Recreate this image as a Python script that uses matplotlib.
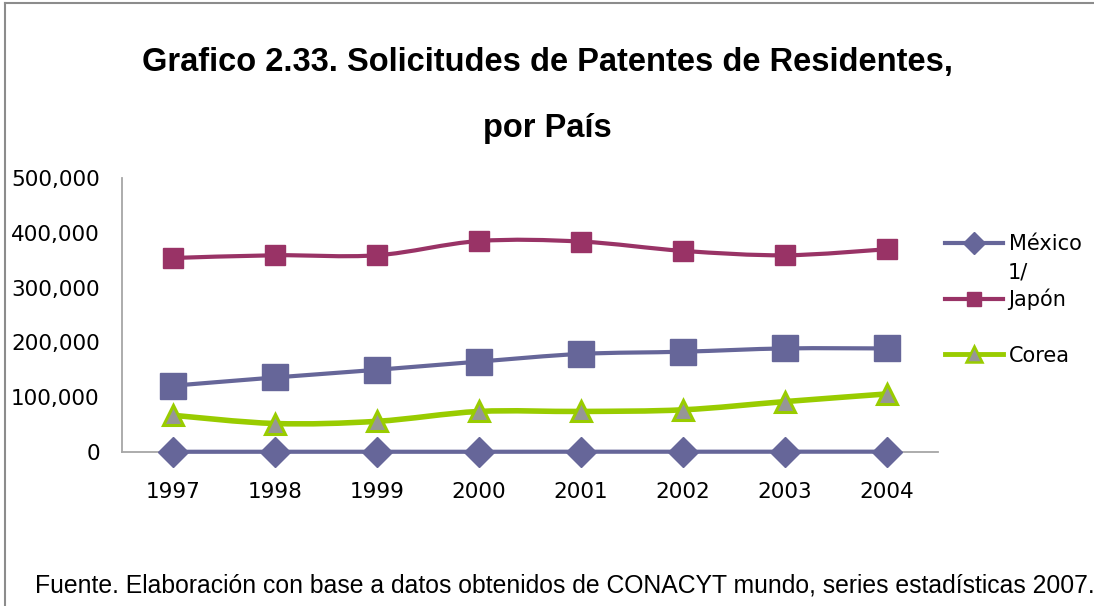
import numpy as np
import matplotlib
matplotlib.use("Agg")
import matplotlib.pyplot as plt
from matplotlib.path import Path
from matplotlib.patches import PathPatch
from matplotlib.lines import Line2D

# solicitudes de patentes de residentes, 1997-2004
years = ["1997", "1998", "1999", "2000", "2001", "2002", "2003", "2004"]
mexico = [420, 450, 455, 430, 535, 525, 565, 585]
japon = [354000, 359000, 359000, 385000, 384000, 367000, 359000, 370000]
corea = [67000, 52000, 56000, 74000, 74000, 77000, 92000, 106000]
estados_unidos = [121000, 136000, 150000, 165000, 179000, 183000, 189000, 189000]

yticks = [0, 100000, 200000, 300000, 400000, 500000]

C_MX = "#666699"
C_JP = "#993366"
C_KR = "#99cc00"
C_US = "#666699"
C_AX = "#a6a6a6"


def smooth_path(xs, ys):
    # bezier curve through the points, like a spreadsheet "smoothed line"
    pts = np.column_stack([xs, ys]).astype(float)
    n = len(pts)
    verts = [pts[0]]
    codes = [Path.MOVETO]
    for i in range(n - 1):
        p0 = pts[i - 1] if i > 0 else pts[i]
        p1 = pts[i]
        p2 = pts[i + 1]
        p3 = pts[i + 2] if i + 2 < n else pts[i + 1]
        c1 = p1 + (p2 - p0) / 6.0
        c2 = p2 - (p3 - p1) / 6.0
        verts += [c1, c2, p2]
        codes += [Path.CURVE4] * 3
    return Path(verts, codes)


fig = plt.figure(figsize=(10.94, 6.06), dpi=100)
ax = fig.add_axes([122 / 1094, 1 - 452 / 606, 816 / 1094, 274 / 606])

x = np.arange(len(years))

series = [
    (mexico, C_MX, 3.0, dict(marker="D", ms=15, mfc=C_MX, mec=C_MX)),
    (estados_unidos, C_US, 3.0, dict(marker="s", ms=18.5, mfc=C_US, mec=C_US)),
    (corea, C_KR, 4.0, dict(marker="^", ms=15, mfc="#969696", mec=C_KR, mew=2.2)),
    (japon, C_JP, 3.0, dict(marker="s", ms=14.5, mfc=C_JP, mec=C_JP)),
]
for vals, col, lw, mk in series:
    ax.add_patch(PathPatch(smooth_path(x, vals), fill=False, ec=col, lw=lw,
                           capstyle="round", joinstyle="round", zorder=3,
                           clip_on=False))
    ax.plot(x, vals, ls="none", zorder=4, clip_on=False, **mk)

ax.set_xlim(-0.5, len(years) - 0.5)
ax.set_ylim(0, 500000)
ax.set_xticks(x)
ax.set_xticklabels(years)
ax.set_yticks(yticks)
ax.set_yticklabels([f"{v:,}" for v in yticks])
ax.tick_params(axis="both", length=0, labelsize=15.5)
ax.tick_params(axis="y", pad=16)
ax.tick_params(axis="x", pad=21.5)
for s in ["top", "right"]:
    ax.spines[s].set_visible(False)
for s in ["left", "bottom"]:
    ax.spines[s].set_color(C_AX)
    ax.spines[s].set_linewidth(1.3)
    ax.spines[s].set_zorder(2)

handles = [
    Line2D([], [], color=C_MX, lw=3, marker="D", ms=11.5, mfc=C_MX, mec=C_MX),
    Line2D([], [], color=C_JP, lw=3, marker="s", ms=10, mfc=C_JP, mec=C_JP),
    Line2D([], [], color=C_KR, lw=3.5, marker="^", ms=11, mfc="#969696", mec=C_KR, mew=1.8),
]
fig.legend(handles, ["México", "Japón", "Corea"], loc="upper left",
           bbox_to_anchor=(945 / 1094, 1 - 234 / 606), frameon=False,
           fontsize=15, handlelength=2.8, handletextpad=0.25,
           labelspacing=1.68, borderpad=0, borderaxespad=0)
fig.text(1008 / 1094, 1 - 272 / 606, "1/", fontsize=15, va="center", ha="left")

fig.text(0.5, 1 - 62 / 606, "Grafico 2.33. Solicitudes de Patentes de Residentes,",
         family="Liberation Sans", weight="bold", fontsize=23.5,
         ha="center", va="center")
fig.text(0.5, 1 - 128 / 606, "por País",
         family="Liberation Sans", weight="bold", fontsize=23.5,
         ha="center", va="center")

fig.text(35 / 1094, 1 - 585 / 606,
         "Fuente. Elaboración con base a datos obtenidos de CONACYT mundo, series estadísticas 2007.",
         family="Liberation Sans", fontsize=17.8, ha="left", va="center")

# marco exterior del gráfico (izquierda y arriba)
fig.add_artist(Line2D([5 / 1094, 5 / 1094], [0, 1 - 3 / 606],
                      transform=fig.transFigure, color="#8c8c8c", lw=1.5))
fig.add_artist(Line2D([5 / 1094, 1], [1 - 3 / 606, 1 - 3 / 606],
                      transform=fig.transFigure, color="#8c8c8c", lw=1.5))

fig.savefig("out.png", dpi=100)
